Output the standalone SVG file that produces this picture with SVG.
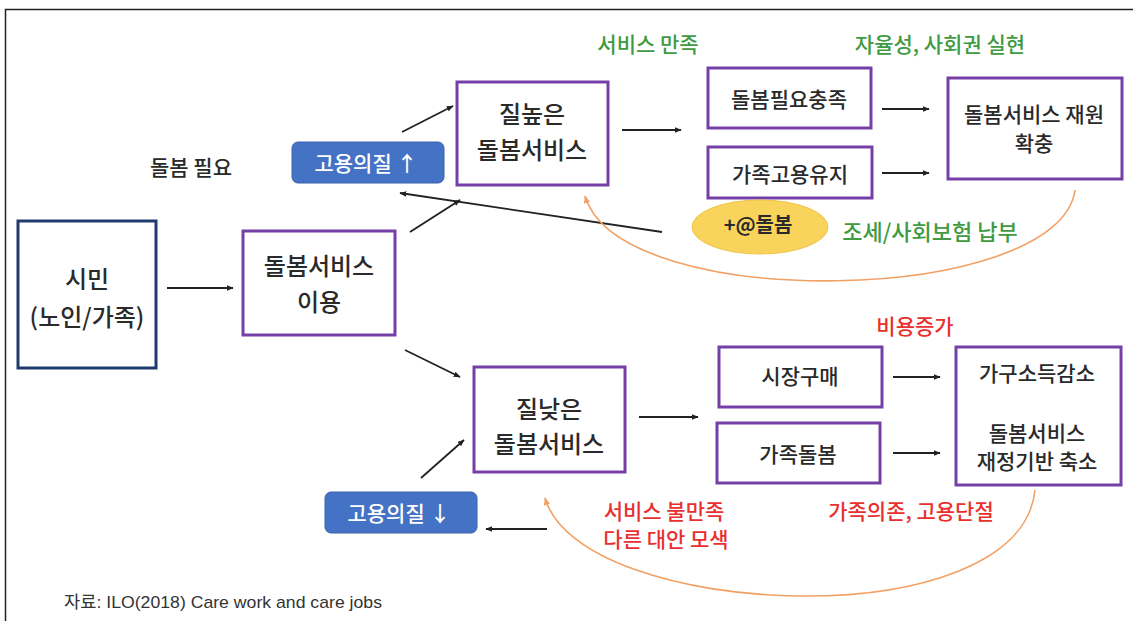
<svg xmlns="http://www.w3.org/2000/svg" width="1133" height="621" viewBox="0 0 1133 621">
<defs>
<style>
.t{font-family:"Noto Sans CJK KR","Liberation Sans",sans-serif;fill:#2a2a2a;text-anchor:middle;dominant-baseline:central;font-weight:500}
.b24{font-size:24px}
.b21{font-size:21px}
.g{fill:#3f9a42;font-size:21px}
.r{fill:#e8312f;font-size:21px}
.box{fill:#ffffff;stroke:#7440a8;stroke-width:3}
.navy{fill:#ffffff;stroke:#1f3a6e;stroke-width:3}
.pill{fill:#4472c4;stroke:#3a62ad;stroke-width:1}
.w{fill:#ffffff;font-size:21px}
.ar{fill:none;stroke:#222;stroke-width:1.8;marker-end:url(#ah)}
.oc{fill:none;stroke:#f2a063;stroke-width:1.6;marker-end:url(#oh)}
</style>
<marker id="ah" viewBox="0 0 10 10" refX="9" refY="5" markerWidth="7" markerHeight="7" orient="auto" markerUnits="userSpaceOnUse">
<path d="M0,1 L10,5 L0,9 Z" fill="#222"/>
</marker>
<marker id="oh" viewBox="0 0 10 10" refX="9" refY="5" markerWidth="8" markerHeight="8" orient="auto" markerUnits="userSpaceOnUse">
<path d="M0,1 L10,5 L0,9 Z" fill="#f2a063"/>
</marker>
</defs>
<rect width="1133" height="621" fill="#ffffff"/>
<path d="M5.5,621 V9.5 H1133" fill="none" stroke="#222" stroke-width="1.5"/>

<g id="connectors">
<line class="ar" x1="167" y1="288" x2="233" y2="288"/>
<line class="ar" x1="410" y1="232" x2="460" y2="200"/>
<line class="ar" x1="402" y1="132" x2="453" y2="106"/>
<line class="ar" x1="662" y1="232" x2="400" y2="193"/>
<line class="ar" x1="622" y1="130" x2="681" y2="130"/>
<line class="ar" x1="882" y1="109" x2="929" y2="109"/>
<line class="ar" x1="882" y1="173" x2="929" y2="173"/>
<path class="oc" d="M1075,190 C1060,305 620,315 585,196"/>
<line class="ar" x1="405" y1="350" x2="460" y2="377"/>
<line class="ar" x1="421" y1="478" x2="464" y2="440"/>
<line class="ar" x1="547" y1="529" x2="486" y2="529"/>
<line class="ar" x1="639" y1="417" x2="698" y2="417"/>
<line class="ar" x1="893" y1="377" x2="940" y2="377"/>
<line class="ar" x1="893" y1="453" x2="940" y2="453"/>
<path class="oc" d="M1035,490 C1020,640 580,620 545,498"/>
</g>

<g id="citizen">
<rect class="navy" x="18" y="221" width="138" height="147"/>
<text class="t b24" x="87" y="277">시민</text>
<text class="t b24" x="87" y="315">(노인/가족)</text>
</g>

<g id="use">
<rect class="box" x="243" y="231" width="152" height="104"/>
<text class="t b24" x="319" y="264">돌봄서비스</text>
<text class="t b24" x="319" y="300">이용</text>
</g>

<g id="care-need">
<text class="t" x="191" y="166" style="font-size:21px">돌봄 필요</text>
</g>

<g id="emp-up">
<rect class="pill" x="292" y="142" width="152" height="41" rx="6"/>
<text class="t w" x="366" y="162">고용의질 ↑</text>
</g>

<g id="high">
<rect class="box" x="457" y="82" width="151" height="103"/>
<text class="t b24" x="532" y="112">질높은</text>
<text class="t b24" x="532" y="148">돌봄서비스</text>
</g>

<g id="label-satisfy">
<text class="t g" x="648" y="43">서비스 만족</text>
</g>

<g id="label-autonomy">
<text class="t g" x="940" y="43">자율성, 사회권 실현</text>
</g>

<g id="need-met">
<rect class="box" x="708" y="68" width="163" height="60"/>
<text class="t b21" x="789" y="98">돌봄필요충족</text>
</g>

<g id="family-emp">
<rect class="box" x="708" y="147" width="164" height="51"/>
<text class="t b21" x="790" y="173">가족고용유지</text>
</g>

<g id="finance-up">
<rect class="box" x="948" y="78" width="174" height="101"/>
<text class="t b21" x="1034" y="113">돌봄서비스 재원</text>
<text class="t b21" x="1034" y="142">확충</text>
</g>

<g id="plus-care">
<ellipse cx="760" cy="227" rx="68" ry="27" fill="#f9d45c" stroke="#f2c24a" stroke-width="1"/>
<text class="t" x="758" y="223" style="font-size:20px;font-weight:bold">+@돌봄</text>
</g>

<g id="label-tax">
<text class="t g" x="930" y="230" style="font-size:22px">조세/사회보험 납부</text>
</g>

<g id="low">
<rect class="box" x="474" y="367" width="151" height="105"/>
<text class="t b24" x="549" y="407">질낮은</text>
<text class="t b24" x="549" y="442">돌봄서비스</text>
</g>

<g id="emp-down">
<rect class="pill" x="325" y="492" width="152" height="41" rx="6"/>
<text class="t w" x="399" y="512">고용의질 ↓</text>
</g>

<g id="label-cost">
<text class="t r" x="915" y="325">비용증가</text>
</g>

<g id="market">
<rect class="box" x="719" y="347" width="163" height="60"/>
<text class="t b21" x="800" y="375">시장구매</text>
</g>

<g id="family-care">
<rect class="box" x="717" y="423" width="163" height="60"/>
<text class="t b21" x="798" y="453">가족돌봄</text>
</g>

<g id="finance-down">
<rect class="box" x="956" y="347" width="165" height="138"/>
<text class="t b21" x="1037" y="372">가구소득감소</text>
<text class="t b21" x="1037" y="432">돌봄서비스</text>
<text class="t b21" x="1037" y="460">재정기반 축소</text>
</g>

<g id="label-dissatisfy">
<text class="t r" x="664" y="510">서비스 불만족</text>
<text class="t r" x="666" y="538">다른 대안 모색</text>
</g>

<g id="label-dependence">
<text class="t r" x="911" y="510">가족의존, 고용단절</text>
</g>

<g id="source">
<text x="64" y="602" style="font-family:'Liberation Sans','Noto Sans CJK KR',sans-serif;font-size:17px;fill:#333;dominant-baseline:central" textLength="318" lengthAdjust="spacingAndGlyphs">자료: ILO(2018) Care work and care jobs</text>
</g>
</svg>
